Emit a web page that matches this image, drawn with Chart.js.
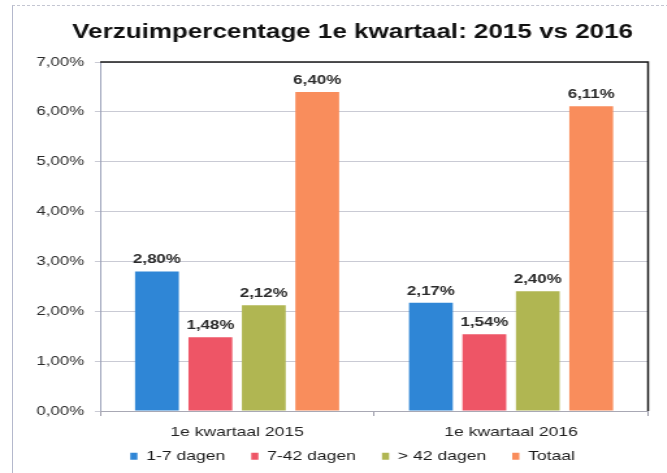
<!DOCTYPE html>
<html lang="nl">
<head>
    <meta charset="UTF-8">
    <title>Verzuimpercentage 1e kwartaal: 2015 vs 2016</title>
    <style>
        body {
            margin: 0;
            background-color: #ffffff;
            font-family: 'Liberation Sans', Arial, sans-serif;
        }

        .wrap {
            position: relative;
            width: 667px;
            height: 473px;
            overflow: hidden;
        }

        /* lijst rond de grafiek (links en boven) */
        .wrap::before {
            content: '';
            position: absolute;
            left: 12px;
            top: 5px;
            right: -2px;
            bottom: -2px;
            border-left: 1px solid #b4b8cc;
            border-top: 1px dashed #c4c6d2;
        }

        /* het origineel is een gescande, horizontaal uitgerekte afbeelding */
        .plot {
            position: absolute;
            left: 0;
            top: 0;
            width: 513px;
            height: 473px;
            transform: scaleX(1.3);
            transform-origin: 0 0;
        }
    </style>
</head>
<body>
    <div class="wrap">
        <div class="plot">
            <canvas id="verzuimChart"></canvas>
        </div>
    </div>

    <script src="https://cdn.jsdelivr.net/npm/chart.js"></script>
    <script>
        // gegevens
        const kwartalen = ['1e kwartaal 2015', '1e kwartaal 2016'];
        const reeksNamen = ['1-7 dagen', '7-42 dagen', '> 42 dagen', 'Totaal'];
        const dagen1tot7 = [2.80, 2.17];
        const dagen7tot42 = [1.48, 1.54];
        const dagenBoven42 = [2.12, 2.40];
        const totaal = [6.40, 6.11];
        const kleuren = ['#2f86d6', '#ee5566', '#b0b652', '#f98d5c'];

        const lettertype = '"Liberation Sans", Arial, sans-serif';
        const fmt = v => v.toFixed(2).replace('.', ',') + '%';

        // waarden boven de staven
        const waardeLabels = {
            id: 'waardeLabels',
            afterDatasetsDraw(chart) {
                const ctx = chart.ctx;
                ctx.save();
                ctx.font = 'bold 13px ' + lettertype;
                ctx.fillStyle = '#2b2b2b';
                ctx.textAlign = 'center';
                ctx.textBaseline = 'alphabetic';
                chart.data.datasets.forEach((ds, i) => {
                    chart.getDatasetMeta(i).data.forEach((bar, j) => {
                        ctx.fillText(fmt(ds.data[j]), bar.x, bar.y - 8);
                    });
                });
                ctx.restore();
            }
        };

        // donkere rand boven en rechts van het plotvlak
        const plotRand = {
            id: 'plotRand',
            beforeDatasetsDraw(chart) {
                const a = chart.chartArea;
                const ctx = chart.ctx;
                ctx.save();
                ctx.strokeStyle = '#1a1a1a';
                ctx.lineWidth = 1.5;
                ctx.beginPath();
                ctx.moveTo(a.left, a.top);
                ctx.lineTo(a.right, a.top);
                ctx.lineTo(a.right, a.bottom);
                ctx.stroke();
                ctx.restore();
            }
        };

        const reeksen = [dagen1tot7, dagen7tot42, dagenBoven42, totaal];

        new Chart(document.getElementById('verzuimChart'), {
            type: 'bar',
            data: {
                labels: kwartalen,
                datasets: reeksen.map((d, i) => ({
                    label: reeksNamen[i],
                    data: d,
                    backgroundColor: kleuren[i],
                    categoryPercentage: 0.78,
                    barPercentage: 0.82
                }))
            },
            options: {
                responsive: true,
                maintainAspectRatio: false,
                animation: false,
                layout: {
                    padding: { left: 44, right: 14.5, top: 10, bottom: 0 }
                },
                scales: {
                    y: {
                        min: 0,
                        max: 7,
                        ticks: {
                            stepSize: 1,
                            // mirror + negatieve padding: labels links naast de as, zonder afknippen
                            mirror: true,
                            padding: -49,
                            color: '#2b2b2b',
                            font: { size: 13, family: lettertype },
                            callback: v => fmt(v)
                        },
                        grid: {
                            color: '#c9cad4',
                            tickLength: 4
                        },
                        border: { color: '#9aa0b8' },
                        afterFit(scale) { scale.width = 33; }
                    },
                    x: {
                        ticks: {
                            // idem voor de x-as: labels onder de as, zonder afknippen
                            mirror: true,
                            padding: -29,
                            color: '#222222',
                            font: { size: 13.5, family: lettertype }
                        },
                        grid: {
                            drawOnChartArea: false,
                            color: '#9a9aa8',
                            tickLength: 5
                        },
                        border: { color: '#a8a8b4' },
                        afterFit(scale) { scale.height = 18.5; }
                    }
                },
                plugins: {
                    title: {
                        display: true,
                        text: 'Verzuimpercentage 1e kwartaal: 2015 vs 2016',
                        color: '#111111',
                        font: { size: 20, weight: 'bold', family: lettertype },
                        padding: { top: 10, bottom: 18 }
                    },
                    legend: {
                        position: 'bottom',
                        labels: {
                            boxWidth: 5.5,
                            boxHeight: 7,
                            padding: 20,
                            color: '#1a1a1a',
                            font: { size: 13.5, family: lettertype }
                        }
                    },
                    tooltip: { enabled: false }
                }
            },
            plugins: [waardeLabels, plotRand]
        });
    </script>
</body>
</html>
